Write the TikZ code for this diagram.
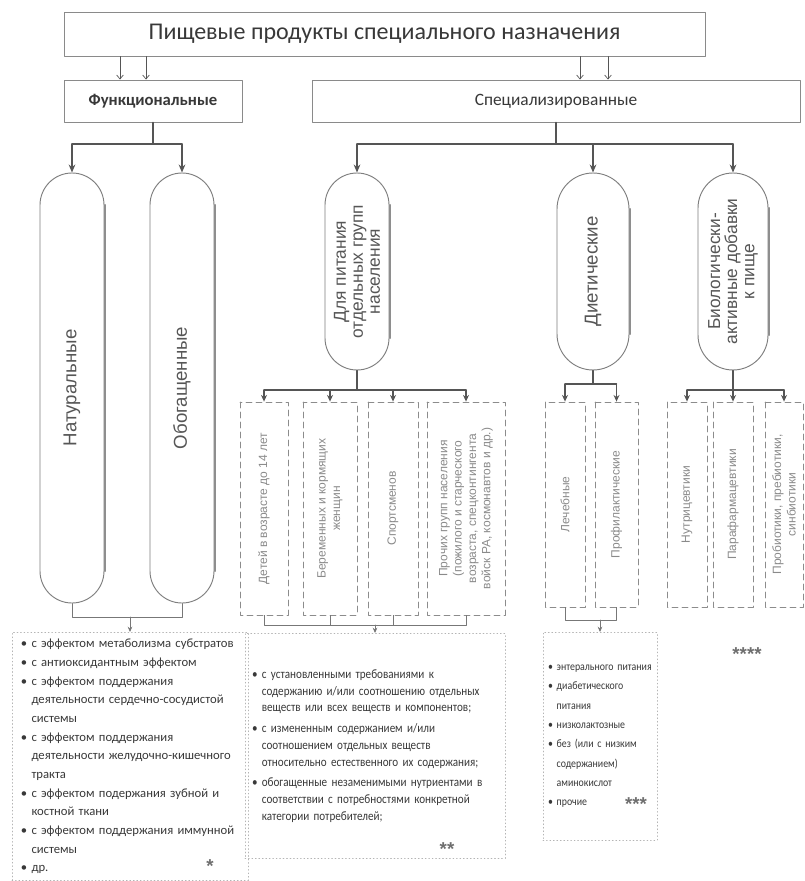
\documentclass[tikz,border=0pt]{standalone}
\usepackage{fontspec}
\setmainfont{Carlito}
\newfontfamily\arialf{Liberation Sans}
\newfontfamily\notef[FakeStretch=0.86]{Carlito}
\usetikzlibrary{positioning,shapes.misc,arrows.meta}

\definecolor{inkdark}{HTML}{383838}
\definecolor{boxline}{HTML}{8A8A8A}
\definecolor{connline}{HTML}{555555}
\definecolor{pilledge}{HTML}{7E7E7E}
\definecolor{pillshade}{HTML}{8E8E8E}
\definecolor{dashline}{HTML}{8C8C8C}
\definecolor{dashtext}{HTML}{8A8A8A}
\definecolor{dotline}{HTML}{B4B4B4}

\newcommand{\pxl}{0.75pt}
\newcommand{\cont}{\phantom{\textbullet\ }}

\tikzset{
  headbox/.style={rectangle,draw=boxline,line width=0.7pt,fill=white,text=inkdark},
  pill/.style={rounded rectangle,rotate=90,draw=pilledge,line width=0.7pt,fill=white,
    text=inkdark!85,align=center,inner sep=0pt,font=\arialf\fontsize{13}{12.8}\selectfont},
  bigpill/.style={pill,font=\arialf\fontsize{14}{14}\selectfont},
  pillshadow/.style={draw=pillshade,line width=1.8pt},
  dbox/.style={rectangle,rotate=90,draw=dashline,dash pattern=on 4.5pt off 3pt,line width=0.6pt,
    text=dashtext,align=center,inner sep=0pt,font=\arialf\fontsize{9}{10.8}\selectfont},
  conn/.style={draw=connline,line width=1pt},
  lowconn/.style={draw=connline!80,line width=0.6pt},
  toparr/.style={draw=connline,line width=0.5pt,-{Straight Barb[length=3pt,width=5pt]}},
  notes/.style={rectangle,draw=dotline,dotted,line width=0.6pt,anchor=north,align=left,text=inkdark},
  stars/.style={text=connline!85,font=\arialf\bfseries\fontsize{14}{14}\selectfont}
}

\begin{document}
\begin{tikzpicture}[x=\pxl,y=-\pxl,line cap=round,line join=round,
  >={Stealth[length=6pt,width=5pt]},every node/.style={inner sep=1pt}]
  \useasboundingbox (0,0) rectangle (804,881);

  % верхний уровень
  \node[headbox,minimum width={641*\pxl},minimum height={44*\pxl},font=\fontsize{18}{20}\selectfont] (title) at (384.5,34) {Пищевые продукты специального назначения};
  \node[headbox,minimum width={178*\pxl},minimum height={42*\pxl},font=\bfseries\fontsize{12.5}{14}\selectfont] (func) at (153,101) {Функциональные};
  \node[headbox,minimum width={488*\pxl},minimum height={42*\pxl},font=\fontsize{13}{15}\selectfont] (spec) at (556,101) {Специализированные};
  \foreach \ax in {120,146} \draw[toparr] (title.south -| \ax,0) -- (func.north -| \ax,0);
  \foreach \ax in {580,608} \draw[toparr] (title.south -| \ax,0) -- (spec.north -| \ax,0);

  % овалы
  \node[bigpill,minimum width={430*\pxl},minimum height={64*\pxl}] (nat) at (72,388) {Натуральные};
  \node[bigpill,minimum width={430*\pxl},minimum height={64*\pxl}] (obo) at (182,388) {Обогащенные};
  \node[pill,minimum width={197*\pxl},minimum height={64*\pxl}] (grp) at (357,271.5) {Для питания\\отдельных групп\\населения};
  \node[bigpill,minimum width={197*\pxl},minimum height={72*\pxl}] (diet) at (593,271.5) {Диетические};
  \node[pill,minimum width={197*\pxl},minimum height={70*\pxl}] (bio) at (733,271.5) {Биологически-\\активные добавки\\к пище};
  \foreach \p in {nat,obo,grp,diet,bio}
    \draw[pillshadow] ([xshift=0.2pt]\p.south west) -- ([xshift=0.2pt]\p.south east);

  \draw[conn] (func.south) -- (func.south |- 0,144);
  \draw[conn] (nat.east |- 0,144) -- (obo.east |- 0,144);
  \foreach \p in {nat,obo} \draw[conn,->] (\p.east |- 0,144) -- (\p.east);
  \draw[conn] (spec.south) -- (spec.south |- 0,144);
  \draw[conn] (grp.east |- 0,144) -- (bio.east |- 0,144);
  \foreach \p in {grp,diet,bio} \draw[conn,->] (\p.east |- 0,144) -- (\p.east);

  % пунктирные блоки
  \node[dbox,minimum width={213*\pxl},minimum height={48*\pxl}] (kids) at (264,508.5) {Детей в возрасте до 14 лет};
  \node[dbox,minimum width={213*\pxl},minimum height={54*\pxl}] (preg) at (330,508.5) {Беременных и кормящих\\женщин};
  \node[dbox,minimum width={213*\pxl},minimum height={50*\pxl}] (sport) at (393,508.5) {Спортсменов};
  \node[dbox,minimum width={213*\pxl},minimum height={78*\pxl}] (other) at (466,508.5) {Прочих групп населения\\(пожилого и старческого\\возраста, спецконтингента\\войск РА, космонавтов и др.)};
  \node[dbox,minimum width={205*\pxl},minimum height={40*\pxl}] (heal) at (565,504.5) {Лечебные};
  \node[dbox,minimum width={205*\pxl},minimum height={43*\pxl}] (prev) at (616.5,504.5) {Профилактические};
  \node[dbox,minimum width={205*\pxl},minimum height={40*\pxl}] (nutr) at (687,504.5) {Нутрицевтики};
  \node[dbox,minimum width={205*\pxl},minimum height={40*\pxl}] (para) at (733,504.5) {Парафармацевтики};
  \node[dbox,minimum width={205*\pxl},minimum height={38*\pxl}] (prob) at (784,504.5) {Пробиотики, пребиотики,\\синбиотики};

  \draw[conn] (grp.west) -- (grp.west |- 0,390);
  \draw[conn] (kids.east |- 0,390) -- (other.east |- 0,390);
  \foreach \p in {kids,preg,sport,other} \draw[conn,-{Stealth[length=5pt,width=4.5pt]}] (\p.east |- 0,390) -- (\p.east);
  \draw[conn] (diet.west) -- (diet.west |- 0,384);
  \draw[conn] (heal.east |- 0,384) -- (prev.east |- 0,384);
  \foreach \p in {heal,prev} \draw[conn,-{Stealth[length=5pt,width=4.5pt]}] (\p.east |- 0,384) -- (\p.east);
  \draw[conn] (bio.west) -- (bio.west |- 0,390);
  \draw[conn] (nutr.east |- 0,390) -- (prob.east |- 0,390);
  \foreach \p in {nutr,para,prob} \draw[conn,-{Stealth[length=5pt,width=4.5pt]}] (\p.east |- 0,390) -- (\p.east);

  % перечни
  \node[notes,text width={218*\pxl},minimum height={248*\pxl},inner xsep={9*\pxl},inner ysep=0pt,
    font=\fontsize{9.5}{14}\selectfont] (funclist) at (130,632) {%
    \textbullet\ с эффектом метаболизма субстратов\\
    \textbullet\ с антиоксидантным эффектом\\
    \textbullet\ с эффектом поддержания\\
    \cont деятельности сердечно-сосудистой\\
    \cont системы\\
    \textbullet\ с эффектом поддержания\\
    \cont деятельности желудочно-кишечного\\
    \cont тракта\\
    \textbullet\ с эффектом подержания зубной и\\
    \cont костной ткани\\
    \textbullet\ с эффектом поддержания иммунной\\
    \cont системы\\
    \textbullet\ др.};
  \node[notes,text width={246*\pxl},minimum height={225*\pxl},inner xsep={7*\pxl},inner ysep=0pt,
    font=\notef\fontsize{9.7}{12.7}\selectfont] (grplist) at (375,633) {%
    \textbullet\ с установленными требованиями к\\
    \cont содержанию и/или соотношению отдельных\\
    \cont веществ или всех веществ и компонентов;\\[2.6pt]
    \textbullet\ с измененным содержанием и/или\\
    \cont соотношением отдельных веществ\\
    \cont относительно естественного их содержания;\\[2.6pt]
    \textbullet\ обогащенные незаменимыми нутриентами в\\
    \cont соответствии с потребностями конкретной\\
    \cont категории потребителей;};
  \node[notes,text width={104*\pxl},minimum height={208*\pxl},inner xsep={5*\pxl},inner ysep=0pt,
    font=\notef\fontsize{8.6}{14.5}\selectfont] (dietlist) at (600,632) {%
    \textbullet\ энтерального питания\\
    \textbullet\ диабетического\\
    \cont питания\\
    \textbullet\ низколактозные\\
    \textbullet\ без (или с низким\\
    \cont содержанием)\\
    \cont аминокислот\\
    \textbullet\ прочие};

  \draw[lowconn] (nat.west) -- (nat.west |- 0,617) -- (obo.west |- 0,617) -- (obo.west);
  \draw[lowconn,-{Stealth[length=4pt,width=3.5pt]}] (funclist.north |- 0,617) -- (funclist.north);
  \draw[lowconn] (kids.west) -- (kids.west |- 0,625) -- (other.west |- 0,625) -- (other.west);
  \foreach \p in {preg,sport} \draw[lowconn] (\p.west) -- (\p.west |- 0,625);
  \draw[lowconn,-{Stealth[length=4pt,width=3.5pt]}] (grplist.north |- 0,625) -- (grplist.north);
  \draw[lowconn] (heal.west) -- (heal.west |- 0,620) -- (prev.west |- 0,620) -- (prev.west);
  \draw[lowconn,-{Stealth[length=4pt,width=3.5pt]}] (dietlist.north |- 0,620) -- (dietlist.north);

  \node[stars] (s1) at (210,866) {*};
  \node[stars] (s2) at (447,849) {**};
  \node[stars] (s3) at (636,804) {***};
  \node[stars] (s4) at (747,654) {****};
\end{tikzpicture}
\end{document}
